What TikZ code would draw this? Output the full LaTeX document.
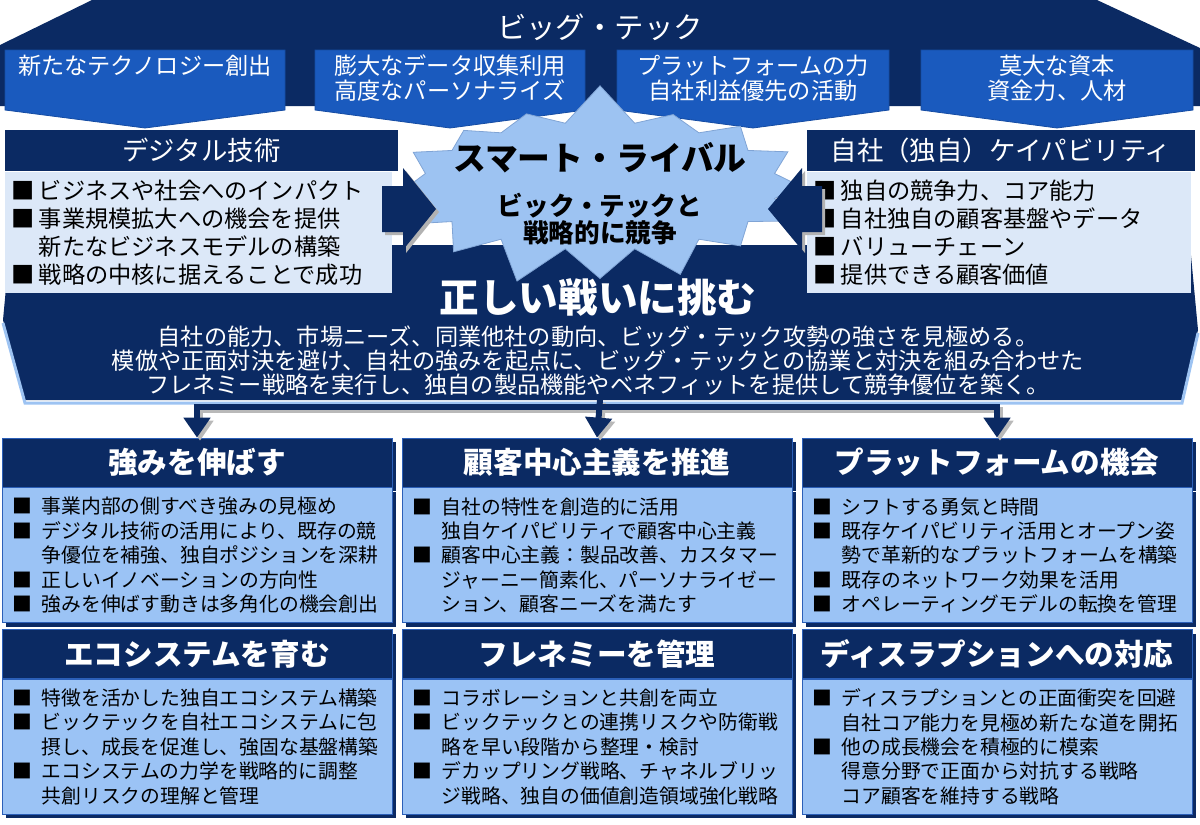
\documentclass[tikz,border=0pt]{standalone}
\usepackage{fontspec}
\setmainfont{Noto Sans CJK JP}
\usetikzlibrary{arrows.meta,positioning,shapes.symbols,shadows}

\definecolor{navy}{HTML}{0B2A63}
\definecolor{topblue}{HTML}{1A5ABE}
\definecolor{starblue}{HTML}{9DC3F2}
\definecolor{paleblue}{HTML}{DCE8F8}
\definecolor{bodyblue}{HTML}{9BC3F5}
\definecolor{edgeblue}{HTML}{2B5FB8}

\newcommand{\setsize}[2]{\fontsize{#1}{#2}\selectfont}
\newcommand{\sqitem}[1][1.5em]{\makebox[#1][l]{■}}
\newcommand{\sqcont}[1][1.5em]{\hspace*{#1}}

\begin{document}
\begin{tikzpicture}[
    x=0.5pt, y=-0.5pt,
    toptext/.style={
        text=white,
        align=center,
        inner sep=0pt,
        font=\setsize{11.6pt}{12.5pt}
    },
    bar/.style={
        fill=navy,
        text=white,
        minimum width=196.5pt,
        minimum height=20.5pt,
        inner sep=0pt,
        font=\setsize{13.2pt}{14pt}
    },
    pale/.style={
        fill=paleblue,
        align=left,
        text width=187.5pt,
        inner xsep=3pt,
        inner ysep=0pt,
        minimum height=60.5pt,
        font=\setsize{11.6pt}{14pt}
    },
    head/.style={
        fill=navy,
        draw=edgeblue,
        text=white,
        minimum width=195pt,
        minimum height=24.5pt,
        inner sep=0pt,
        font=\bfseries\setsize{14.8pt}{16pt},
        general shadow={fill=navy, shadow xshift=2pt, shadow yshift=-2pt}
    },
    body/.style={
        fill=bodyblue,
        draw=edgeblue,
        align=left,
        text width=185pt,
        inner xsep=5pt,
        inner ysep=0pt,
        minimum height=67.5pt,
        font=\setsize{9.9pt}{12.2pt},
        general shadow={fill=navy, shadow xshift=2pt, shadow yshift=-2pt},
        node distance=0pt
    },
    fork/.style={draw=navy, line width=3pt, -{Triangle[width=13pt,length=10pt]}},
    forkshade/.style={draw=gray!55, line width=3pt, -{Triangle[width=13pt,length=10pt]},
        transform canvas={shift={(1.5pt,-1.5pt)}}},
    blockshade/.style={fill=gray!60, transform canvas={shift={(1.5pt,-1.5pt)}}}
]
\useasboundingbox (0,0) rectangle (1200,825);

% big tech band
\fill[navy] (0,45) -- (92,0) -- (1097,0) -- (1200,48) -- (1200,106) -- (0,106) -- cycle;
\node[text=white, font=\setsize{14.7pt}{16pt}] (bigtech) at (600,27) {ビッグ・テック};

\foreach \xa/\xb/\name/\txt in {
    5/285/newtech/{新たなテクノロジー創出},
    315/585/data/{膨大なデータ収集利用\\高度なパーソナライズ},
    617/889/platform/{プラットフォームの力\\自社利益優先の活動},
    921/1193/capital/{莫大な資本\\資金力、人材}}{
    \pgfmathsetmacro\xm{(\xa+\xb)/2}
    \fill[topblue, draw=topblue!70!navy] (\xa,50) -- (\xb,50) -- (\xb,110) -- (\xm,128) -- (\xa,110) -- cycle;
    \node[toptext, anchor=north] (\name) at (\xm,54.5) {\txt};
}

% right battle banner
\fill[navy] (10,245) -- (1190,245) -- (1198,330) -- (1182,400) -- (25,400) -- (3,320) -- cycle;
\draw[starblue, line width=1.5pt] (3,323) -- (25,403) -- (1182,403) -- (1198,333);

% digital / capability
\node[bar] (digital) at (201.5,150.5) {デジタル技術};
\node[pale] (digitalbody) at (198.5,232.5) {%
    \sqitem[1.2em]ビジネスや社会へのインパクト\\
    \sqitem[1.2em]事業規模拡大への機会を提供\\
    \sqcont[1.2em]新たなビジネスモデルの構築\\
    \sqitem[1.2em]戦略の中核に据えることで成功};
\node[bar, minimum width=194pt] (capab) at (1001,150.5) {自社（独自）ケイパビリティ};
\node[pale, text width=186pt] (capabbody) at (999,232.5) {%
    \sqitem[1.2em]独自の競争力、コア能力\\
    \sqitem[1.2em]自社独自の顧客基盤やデータ\\
    \sqitem[1.2em]バリューチェーン\\
    \sqitem[1.2em]提供できる顧客価値};

% smart rival
\node[starburst, fill=starblue, draw=starblue!80!navy, starburst points=16,
    starburst point height=20pt, minimum width=218pt, minimum height=104pt,
    random starburst=7] (rival) at (600,186) {};
\node[font=\bfseries\setsize{16.4pt}{18pt}] (rivaltitle) at (600,158) {スマート・ライバル};
\node[font=\bfseries\setsize{12.8pt}{13.5pt}, align=center] (rivalsub) at (600,219) {ビック・テックと\\戦略的に競争};

\fill[blockshade] (382,186) -- (403,186) -- (403,168) -- (436,209) -- (403,250) -- (403,232) -- (382,232) -- cycle;
\fill[navy] (382,186) -- (403,186) -- (403,168) -- (436,209) -- (403,250) -- (403,232) -- (382,232) -- cycle;
\fill[blockshade] (822,186) -- (802,186) -- (802,168) -- (768,209) -- (802,250) -- (802,232) -- (822,232) -- cycle;
\fill[navy] (822,186) -- (802,186) -- (802,168) -- (768,209) -- (802,250) -- (802,232) -- (822,232) -- cycle;

\node[text=white, font=\bfseries\setsize{19.8pt}{21pt}] (battle) at (598,297) {正しい戦いに挑む};
\node[text=white, align=center, font=\setsize{11.6pt}{12pt}] (battletext) at (598,361) {%
    自社の能力、市場ニーズ、同業他社の動向、ビッグ・テック攻勢の強さを見極める。\\
    模倣や正面対決を避け、自社の強みを起点に、ビッグ・テックとの協業と対決を組み合わせた\\
    フレネミー戦略を実行し、独自の製品機能やベネフィットを提供して競争優位を築く。};

% six strategies
\node[head] (strength) at (197,462.5) {強みを伸ばす};
\node[body, below=of strength] (strengthbody) {%
    \sqitem 事業内部の側すべき強みの見極め\\
    \sqitem デジタル技術の活用により、既存の競\\
    \sqcont 争優位を補強、独自ポジションを深耕\\
    \sqitem 正しいイノベーションの方向性\\
    \sqitem 強みを伸ばす動きは多角化の機会創出};
\node[head] (customer) at (597,462.5) {顧客中心主義を推進};
\node[body, below=of customer] (customerbody) {%
    \sqitem 自社の特性を創造的に活用\\
    \sqcont 独自ケイパビリティで顧客中心主義\\
    \sqitem 顧客中心主義：製品改善、カスタマー\\
    \sqcont ジャーニー簡素化、パーソナライゼー\\
    \sqcont ション、顧客ニーズを満たす};
\node[head] (platformop) at (997,462.5) {プラットフォームの機会};
\node[body, below=of platformop] (platformopbody) {%
    \sqitem シフトする勇気と時間\\
    \sqitem 既存ケイパビリティ活用とオープン姿\\
    \sqcont 勢で革新的なプラットフォームを構築\\
    \sqitem 既存のネットワーク効果を活用\\
    \sqitem オペレーティングモデルの転換を管理};

\node[head] (ecosystem) at (197,654) {エコシステムを育む};
\node[body, below=of ecosystem] (ecosystembody) {%
    \sqitem 特徴を活かした独自エコシステム構築\\
    \sqitem ビックテックを自社エコシステムに包\\
    \sqcont 摂し、成長を促進し、強固な基盤構築\\
    \sqitem エコシステムの力学を戦略的に調整\\
    \sqcont 共創リスクの理解と管理};
\node[head] (frenemy) at (597,654) {フレネミーを管理};
\node[body, below=of frenemy] (frenemybody) {%
    \sqitem コラボレーションと共創を両立\\
    \sqitem ビックテックとの連携リスクや防衛戦\\
    \sqcont 略を早い段階から整理・検討\\
    \sqitem デカップリング戦略、チャネルブリッ\\
    \sqcont ジ戦略、独自の価値創造領域強化戦略};
\node[head] (disrupt) at (997,654) {ディスラプションへの対応};
\node[body, below=of disrupt] (disruptbody) {%
    \sqitem ディスラプションとの正面衝突を回避\\
    \sqcont 自社コア能力を見極め新たな道を開拓\\
    \sqitem 他の成長機会を積極的に模索\\
    \sqcont 得意分野で正面から対抗する戦略\\
    \sqcont コア顧客を維持する戦略};

% fork from banner
\coordinate (hub) at (600,407);
\coordinate (hubtop) at (600,400);
\draw[forkshade] (hub) -| (strength.north);
\draw[forkshade] (hubtop) -- (customer.north);
\draw[forkshade] (hub) -| (platformop.north);
\draw[fork] (hub) -| (strength.north);
\draw[fork] (hubtop) -- (customer.north);
\draw[fork] (hub) -| (platformop.north);
\end{tikzpicture}
\end{document}
